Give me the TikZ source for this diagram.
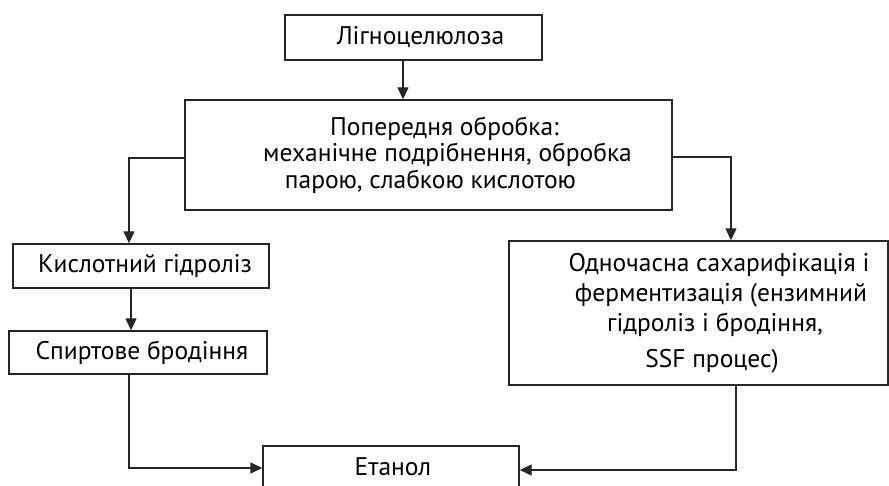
\documentclass[tikz,border=0pt]{standalone}
\usepackage{fontspec}
\setmainfont{PT Sans}
\usetikzlibrary{arrows.meta}
\begin{document}
\begin{tikzpicture}[x=1pt,y=-1pt,
  box/.style={draw=black!85, line width=1.4pt, rectangle, inner sep=0pt, align=center},
  txt/.style={font=\fontsize{25.5}{30}\selectfont, text=black},
  conn/.style={draw=black!85, line width=1.4pt},
  arr/.style={conn, -{Triangle[length=12pt,width=11pt]}}]
\useasboundingbox[clip] (0,0) rectangle (889,486);
\fill[white] (0,0) rectangle (889,486);
\node[box, txt, minimum width=257pt, minimum height=45pt] (top) at (413.5,37.5) {\hspace*{14pt}Лігноцелюлоза};
\node[box, txt, minimum width=487pt, minimum height=110pt, font=\fontsize{25.5}{26.5}\selectfont] (main) at (428.5,155)
  {\hspace*{32pt}Попередня обробка:\\ \hspace*{38pt}механічне подрібнення, обробка\\ \hspace*{4pt}парою, слабкою кислотою};
\node[box, txt, minimum width=256pt, minimum height=44pt] (kisl) at (141,266) {\hspace*{8pt}Кислотний гідроліз};
\node[box, txt, minimum width=258pt, minimum height=43pt] (spirt) at (138,352.5) {\hspace*{8pt}Спиртове бродіння};
\node[box, txt, minimum width=379pt, minimum height=144pt, font=\fontsize{25.5}{30}\selectfont] (right) at (698.5,313)
  {\hspace*{41pt}Одночасна сахарифікація і\\ \hspace*{45pt}ферментизація (ензимний\\ \hspace*{33pt}гідроліз і бродіння,\\[6pt] \hspace*{27pt}SSF процес)};
\node[box, minimum width=256pt, minimum height=64pt] (etanol) at (391,478) {};
\node[txt, inner sep=0pt] (etext) at (393,467) {Етанол};
\draw[arr] ([xshift=-10.5pt]top.south) -- ([xshift=-10.5pt]top.south |- main.north);
\draw[arr] ([yshift=-3pt]main.west) -| ([xshift=-12pt]kisl.north);
\draw[arr] ([yshift=-2pt]main.east) -| ([xshift=32.5pt]right.north);
\draw[arr] ([xshift=-10pt]kisl.south) -- ([xshift=-10pt]kisl.south |- spirt.north);
\draw[arr] ([xshift=-9pt]spirt.south) |- ([yshift=10pt]etanol.west);
\draw[arr] ([xshift=37.5pt]right.south) |- ([yshift=8pt]etanol.east);
\end{tikzpicture}
\end{document}
